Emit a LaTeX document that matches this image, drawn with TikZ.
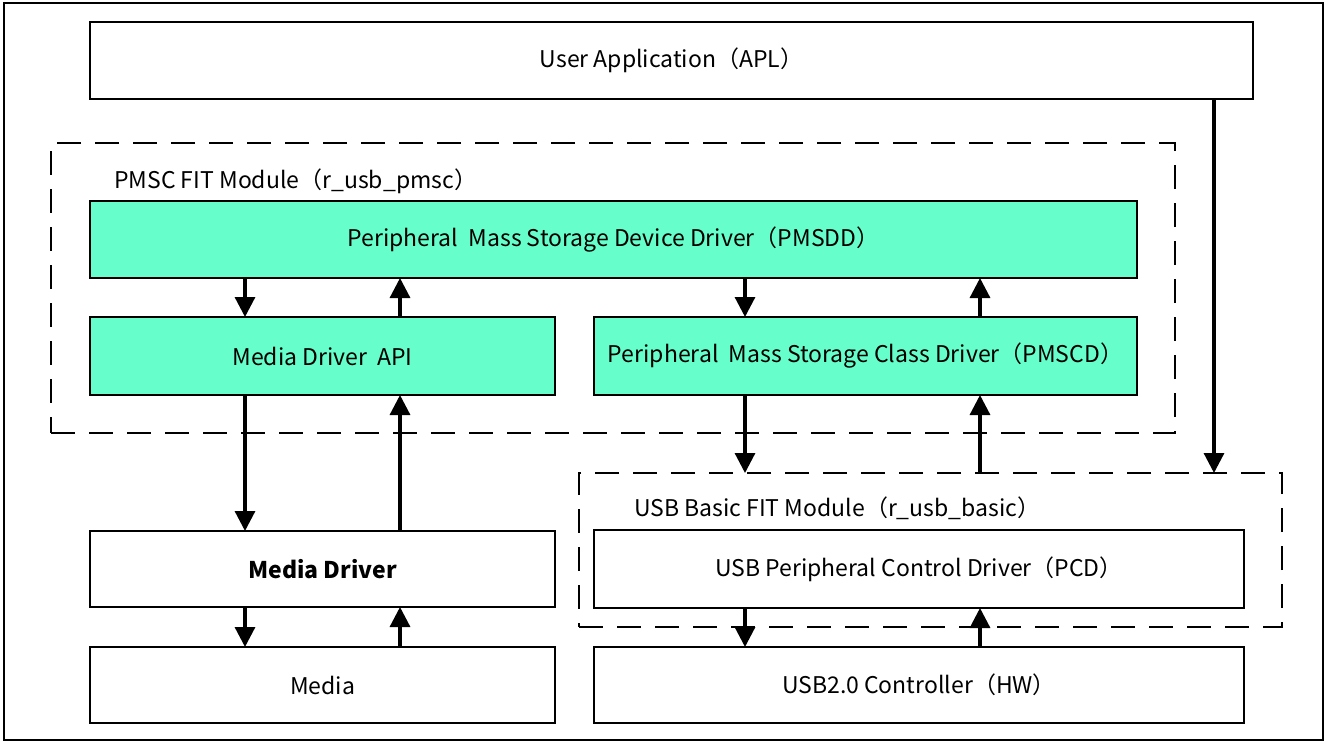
\documentclass[tikz,border=0pt]{standalone}
\usepackage{fontspec}
\setmainfont{Noto Sans CJK JP}
\usetikzlibrary{arrows.meta}
\definecolor{aqua}{RGB}{102,255,204}
\begin{document}
\begin{tikzpicture}[x=1pt,y=-1pt,
  box/.style={draw=black, line width=2.5pt, fill=white, rectangle, outer sep=0pt, inner sep=0pt,
    font=\fontsize{23}{27}\selectfont},
  gbox/.style={box, fill=aqua},
  dbox/.style={draw=black, line width=2.6pt, dash pattern=on 24pt off 14pt, rectangle, outer sep=0pt, inner sep=0pt},
  lbl/.style={font=\fontsize{23}{27}\selectfont, inner sep=0pt, anchor=west},
  arr/.style={line width=3.2pt, -{Triangle[width=20pt,length=20pt]}}]
\useasboundingbox (0,0) rectangle (1326,742);
\draw[line width=1.8pt] (4,3) rectangle (1323,740);
% dashed module boxes
\node[dbox, minimum width=1124pt, minimum height=290pt] (pmsc) at (613,288) {};
\node[dbox, minimum width=703pt, minimum height=154pt] (usb) at (930.5,550) {};
\node[lbl] (pmsclbl) at (114,181) {PMSC FIT Module（r\_usb\_pmsc）};
\node[lbl] (usblbl) at (634,508) {USB Basic FIT Module（r\_usb\_basic）};
% boxes
\node[box, minimum width=1163pt, minimum height=77pt] (apl) at (671.5,60.5) {User Application（APL）};
\node[gbox, minimum width=1047pt, minimum height=77pt] (pmsdd) at (613.5,239.5) {Peripheral\ \ Mass Storage Device Driver（PMSDD）};
\node[gbox, minimum width=465pt, minimum height=78pt] (mda) at (322.5,356) {Media Driver\ \ API};
\node[gbox, minimum width=543pt, minimum height=78pt] (pmscd) at (865.5,356) {Peripheral\ \ Mass Storage Class Driver（PMSCD）};
\node[box, minimum width=465pt, minimum height=76pt] (md) at (322.5,569) {\bfseries Media Driver};
\node[box, minimum width=465pt, minimum height=76pt] (media) at (322.5,685) {Media};
\node[box, minimum width=650pt, minimum height=78pt] (pcd) at (919,569) {USB Peripheral Control Driver（PCD）};
\node[box, minimum width=650pt, minimum height=76pt] (usbc) at (919,685) {USB2.0 Controller（HW）};
% arrow columns
\coordinate (c1) at (245,0);
\coordinate (c2) at (400,0);
\coordinate (c3) at (745,0);
\coordinate (c4) at (980,0);
\coordinate (c5) at (1214,0);
% arrows
\draw[arr] (pmsdd.south -| c1) -- (mda.north -| c1);
\draw[arr] (mda.north -| c2) -- (pmsdd.south -| c2);
\draw[arr] (pmsdd.south -| c3) -- (pmscd.north -| c3);
\draw[arr] (pmscd.north -| c4) -- (pmsdd.south -| c4);
\draw[arr] (mda.south -| c1) -- (md.north -| c1);
\draw[arr] (md.north -| c2) -- (mda.south -| c2);
\draw[arr] (md.south -| c1) -- (media.north -| c1);
\draw[arr] (media.north -| c2) -- (md.south -| c2);
\draw[arr] (pmscd.south -| c3) -- (usb.north -| c3);
\draw[arr] (usb.north -| c4) -- (pmscd.south -| c4);
\draw[arr] (apl.south -| c5) -- (usb.north -| c5);
\draw[arr] (pcd.south -| c3) -- (usbc.north -| c3);
\draw[arr] (usbc.north -| c4) -- (pcd.south -| c4);
\end{tikzpicture}
\end{document}
